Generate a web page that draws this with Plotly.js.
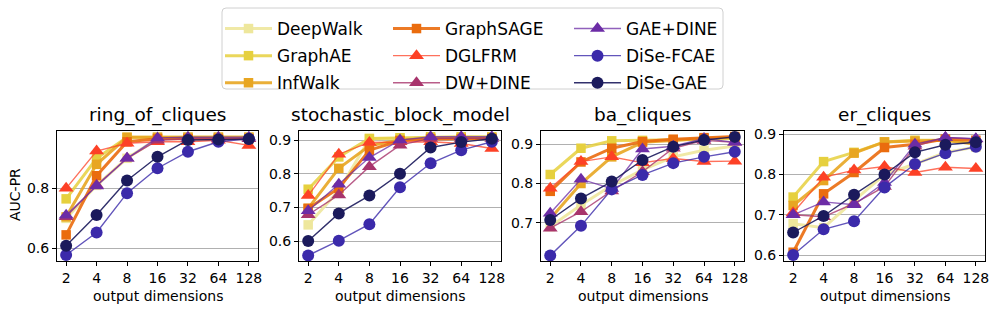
<!DOCTYPE html>
<html>
<head>
<meta charset="utf-8">
<script src="https://cdn.plot.ly/plotly-3.0.1.min.js"></script>
<style>html,body{margin:0;padding:0;background:#fff;} #chart{width:997px;height:311px;}</style>
</head>
<body>
<div id="chart"></div>
<script>
// ---- data ----
const dims = ['2', '4', '8', '16', '32', '64', '128'];
const methods = ['DeepWalk', 'GraphAE', 'InfWalk', 'GraphSAGE', 'DGLFRM', 'DW+DINE', 'GAE+DINE', 'DiSe-FCAE', 'DiSe-GAE'];
const datasetTitles = ['ring_of_cliques', 'stochastic_block_model', 'ba_cliques', 'er_cliques'];

// rows follow `methods`
const ringOfCliques = [
  [0.700, 0.810, 0.900, 0.965, 0.970, 0.970, 0.970],
  [0.765, 0.900, 0.970, 0.970, 0.970, 0.970, 0.970],
  [0.705, 0.880, 0.970, 0.970, 0.970, 0.970, 0.970],
  [0.645, 0.842, 0.955, 0.965, 0.965, 0.965, 0.965],
  [0.800, 0.924, 0.950, 0.955, 0.955, 0.960, 0.943],
  [0.705, 0.810, 0.900, 0.960, 0.965, 0.965, 0.965],
  [0.710, 0.808, 0.900, 0.968, 0.970, 0.970, 0.970],
  [0.578, 0.653, 0.784, 0.867, 0.922, 0.955, 0.965],
  [0.609, 0.711, 0.826, 0.905, 0.961, 0.963, 0.964]
];
const stochasticBlockModel = [
  [0.648, 0.750, 0.903, 0.905, 0.908, 0.908, 0.908],
  [0.754, 0.850, 0.905, 0.907, 0.910, 0.910, 0.910],
  [0.697, 0.816, 0.883, 0.900, 0.905, 0.905, 0.905],
  [0.697, 0.757, 0.870, 0.898, 0.903, 0.903, 0.905],
  [0.735, 0.858, 0.893, 0.895, 0.895, 0.890, 0.875],
  [0.678, 0.737, 0.821, 0.885, 0.905, 0.905, 0.905],
  [0.690, 0.769, 0.848, 0.900, 0.910, 0.910, 0.910],
  [0.557, 0.601, 0.650, 0.760, 0.831, 0.870, 0.895],
  [0.600, 0.682, 0.735, 0.800, 0.878, 0.894, 0.904]
];
const baCliques = [
  [0.690, 0.745, 0.795, 0.835, 0.868, 0.885, 0.896],
  [0.823, 0.890, 0.909, 0.910, 0.912, 0.913, 0.915],
  [0.710, 0.800, 0.868, 0.905, 0.910, 0.915, 0.918],
  [0.780, 0.855, 0.890, 0.907, 0.913, 0.917, 0.920],
  [0.788, 0.856, 0.868, 0.853, 0.864, 0.856, 0.857],
  [0.686, 0.728, 0.781, 0.830, 0.890, 0.910, 0.905],
  [0.724, 0.811, 0.787, 0.888, 0.895, 0.915, 0.905],
  [0.616, 0.692, 0.785, 0.822, 0.852, 0.868, 0.881],
  [0.707, 0.762, 0.805, 0.860, 0.894, 0.911, 0.919]
];
const erCliques = [
  [0.678, 0.668, 0.735, 0.800, 0.826, 0.855, 0.868],
  [0.744, 0.832, 0.855, 0.881, 0.885, 0.885, 0.877],
  [0.723, 0.785, 0.853, 0.881, 0.883, 0.885, 0.875],
  [0.607, 0.752, 0.805, 0.867, 0.875, 0.888, 0.885],
  [0.705, 0.793, 0.811, 0.820, 0.805, 0.818, 0.815],
  [0.700, 0.695, 0.728, 0.770, 0.870, 0.892, 0.888],
  [0.700, 0.732, 0.725, 0.780, 0.875, 0.892, 0.889],
  [0.600, 0.664, 0.684, 0.768, 0.826, 0.853, 0.869],
  [0.656, 0.697, 0.750, 0.800, 0.855, 0.874, 0.880]
];
const yTickVals = [[0.6, 0.8], [0.6, 0.7, 0.8, 0.9], [0.7, 0.8, 0.9], [0.6, 0.7, 0.8, 0.9]];
const yTickText = [['0.6', '0.8'], ['0.6', '0.7', '0.8', '0.9'], ['0.7', '0.8', '0.9'], ['0.6', '0.7', '0.8', '0.9']];

// ---- styles ----
const markerColors = ['#eee79c', '#e6d03e', '#e8a622', '#ea6c0e', '#fd4126', '#a8346c', '#6c2ca6', '#3b2aaa', '#1b1a5c'];
const lineColors = ['rgba(238,231,156,0.9)', 'rgba(230,208,62,0.85)', 'rgba(232,166,34,0.9)', 'rgba(234,108,14,0.9)',
  'rgba(253,65,38,0.75)', 'rgba(168,52,108,0.8)', 'rgba(108,44,166,0.75)', 'rgba(59,42,170,0.8)', 'rgba(27,26,92,0.9)'];
const symbols = ['square', 'square', 'square', 'square', 'triangle-up', 'triangle-up', 'triangle-up', 'circle', 'circle'];
const markerSizes = [9.5, 9.5, 9.5, 9.5, 13, 13, 13, 12, 12];
const lineWidths = [3, 3, 3, 3, 1.4, 1.4, 1.4, 1.4, 1.4];
const legendIds = ['legend', 'legend', 'legend', 'legend2', 'legend2', 'legend2', 'legend3', 'legend3', 'legend3'];

const datasets = [ringOfCliques, stochasticBlockModel, baCliques, erCliques];
const yRanges = [[0.559, 0.991], [0.5415, 0.927], [0.603, 0.934], [0.586, 0.908]];
const W = 997, H = 311;
const xPix = [[57, 258], [299, 501], [541, 744], [784, 985]];
const yDom = [1 - 260.7 / H, 1 - 131 / H];
const FONT = 'DejaVu Sans';

const traces = [];
datasets.forEach((ds, d) => {
  const sfx = d === 0 ? '' : String(d + 1);
  methods.forEach((m, i) => {
    traces.push({
      type: 'scatter', mode: 'lines+markers',
      x: dims, y: ds[i], name: m,
      xaxis: 'x' + sfx, yaxis: 'y' + sfx,
      legend: legendIds[i], legendgroup: m, showlegend: d === 0,
      line: {color: lineColors[i], width: lineWidths[i]},
      marker: {color: markerColors[i], symbol: symbols[i], size: markerSizes[i], line: {width: 0}},
      cliponaxis: false
    });
  });
});

const layout = {
  width: W, height: H,
  margin: {l: 0, r: 0, t: 0, b: 0},
  paper_bgcolor: '#fff', plot_bgcolor: '#fff',
  font: {family: FONT, size: 14, color: '#000'},
  annotations: [],
  shapes: []
};
const legFont = {family: FONT, size: 17, color: '#000'};
const legCommon = {orientation: 'v', xanchor: 'left', yanchor: 'top', bgcolor: 'rgba(0,0,0,0)', borderwidth: 0,
  font: legFont, tracegroupgap: 2, itemwidth: 47, y: 1 - 11 / H};
layout.legend = Object.assign({}, legCommon, {x: 220 / W});
layout.legend2 = Object.assign({}, legCommon, {x: 388 / W});
layout.legend3 = Object.assign({}, legCommon, {x: 569 / W});

// legend frame (rounded rectangle)
(function () {
  const x0 = 222 / W, x1 = 723 / W, yt = 1 - 8 / H, yb = 1 - 89 / H, rx = 4 / W, ry = 4 / H;
  const p = `M${x0 + rx},${yt} L${x1 - rx},${yt} Q${x1},${yt} ${x1},${yt - ry} L${x1},${yb + ry} Q${x1},${yb} ${x1 - rx},${yb} ` +
    `L${x0 + rx},${yb} Q${x0},${yb} ${x0},${yb + ry} L${x0},${yt - ry} Q${x0},${yt} ${x0 + rx},${yt} Z`;
  layout.shapes.push({type: 'path', xref: 'paper', yref: 'paper', path: p,
    line: {color: '#d0d0d0', width: 1}, fillcolor: 'rgba(255,255,255,0.8)', layer: 'above'});
})();

datasets.forEach((ds, d) => {
  const sfx = d === 0 ? '' : String(d + 1);
  const xd = [xPix[d][0] / W, xPix[d][1] / W];
  layout['xaxis' + sfx] = {
    domain: xd, anchor: 'y' + sfx, type: 'category', range: [-0.3, 6.3],
    showline: true, linecolor: '#000', linewidth: 1, mirror: true,
    ticks: 'outside', ticklen: 4, tickwidth: 1, tickcolor: '#000',
    showgrid: false, zeroline: false, tickfont: {family: FONT, size: 14, color: '#000'}
  };
  layout['yaxis' + sfx] = {
    domain: yDom, anchor: 'x' + sfx, range: yRanges[d],
    tickvals: yTickVals[d], ticktext: yTickText[d],
    showline: true, linecolor: '#000', linewidth: 1, mirror: true,
    ticks: 'outside', ticklen: 4, tickwidth: 1, tickcolor: '#000',
    showgrid: true, gridcolor: '#b0b0b0', gridwidth: 1, zeroline: false,
    tickfont: {family: FONT, size: 14, color: '#000'}
  };
  // subplot title
  layout.annotations.push({text: datasetTitles[d], xref: 'paper', yref: 'paper',
    x: (xd[0] + xd[1]) / 2, y: 1 - 115 / H, xanchor: 'center', yanchor: 'middle', showarrow: false,
    font: {family: FONT, size: 18.5, color: '#000'}});
  // x axis title
  layout.annotations.push({text: 'output dimensions', xref: 'paper', yref: 'paper',
    x: (xd[0] + xd[1]) / 2, y: 1 - 296 / H, xanchor: 'center', yanchor: 'middle', showarrow: false,
    font: {family: FONT, size: 14, color: '#000'}});
});
layout.annotations.push({text: 'AUC-PR', xref: 'paper', yref: 'paper', x: 15 / W, y: 1 - 195 / H,
  xanchor: 'center', yanchor: 'middle', textangle: -90, showarrow: false,
  font: {family: FONT, size: 14, color: '#000'}});

Plotly.newPlot('chart', traces, layout, {displayModeBar: false, staticPlot: true});
</script>
</body>
</html>
